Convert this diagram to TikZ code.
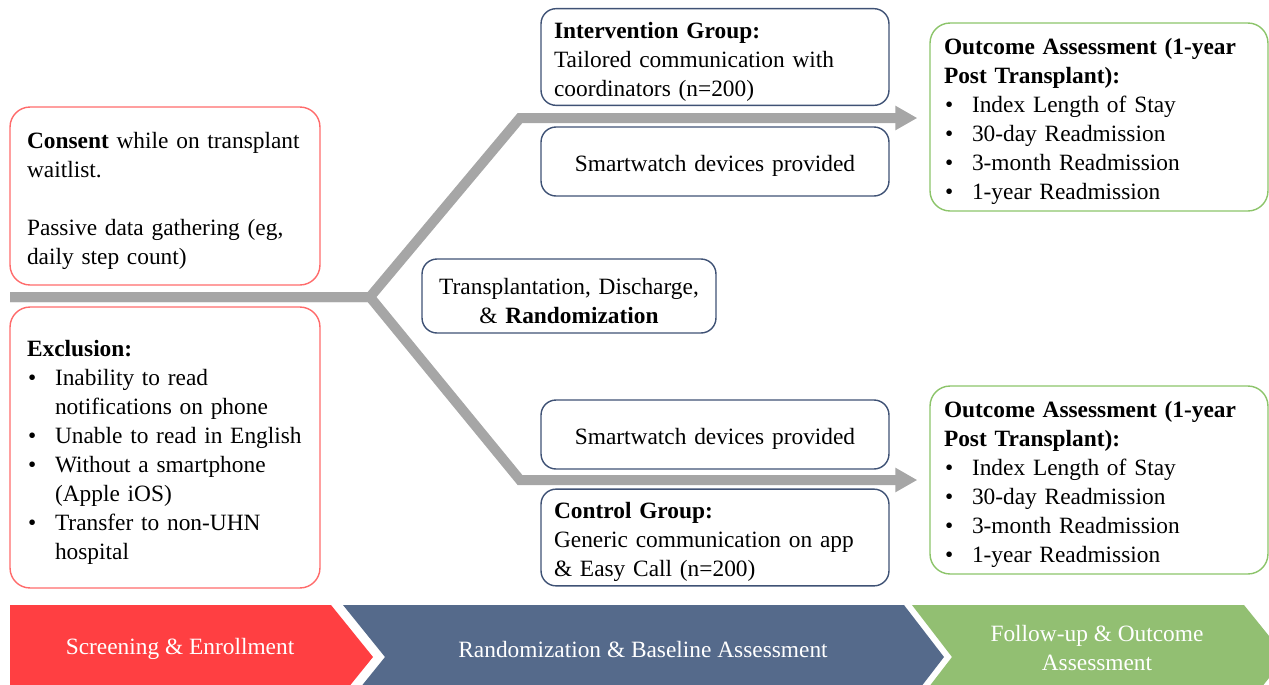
\documentclass[tikz,border=0pt]{standalone}
\usepackage{fontspec}
\setmainfont{Liberation Serif}
\usetikzlibrary{arrows.meta}

\definecolor{consentred}{HTML}{FF6B6B}
\definecolor{groupblue}{HTML}{3F5275}
\definecolor{outcomegreen}{HTML}{8CC46A}
\definecolor{trunkgray}{HTML}{A6A6A6}
\definecolor{phasered}{HTML}{FF3F42}
\definecolor{phaseblue}{HTML}{556A8B}
\definecolor{phasegreen}{HTML}{92BF72}

% bullet with hanging text, and the indent for wrapped lines
\newcommand{\bul}{\makebox[0.56cm][l]{\hspace{0.02cm}\textbullet}}
\newcommand{\ind}{\hspace*{0.56cm}}

\begin{document}
\begin{tikzpicture}[x=0.02cm, y=-0.02cm, font=\fontsize{13.3}{16.5}\selectfont,
  boxtext/.style={execute at begin node={\rule{0pt}{1.1em}}},
  redbox/.style={boxtext, draw=consentred, line width=0.8pt, rounded corners=0.4cm,
    inner xsep=0.34cm, text width=5.52cm, minimum width=6.2cm, align=left},
  bluebox/.style={boxtext, draw=groupblue, line width=0.8pt, rounded corners=0.3cm,
    inner xsep=0.26cm, inner ysep=0.08cm, text width=6.44cm, minimum width=6.96cm, align=left},
  greenbox/.style={boxtext, draw=outcomegreen, line width=0.8pt, rounded corners=0.4cm,
    inner xsep=0.28cm, text width=6.2cm, minimum width=6.76cm,
    minimum height=3.76cm, align=left},
  trunk/.style={draw=trunkgray, line width=0.2cm},
  phase/.style={text=white, align=center}]

\useasboundingbox (0,0) rectangle (1269,684);

% left column: screening
\node[redbox, minimum height=3.56cm] (consent) at (165,196)
  {\textbf{Consent} while on transplant\\ waitlist.\\[16.5pt]
   Passive data gathering (eg,\\ daily step count)};
\node[redbox, minimum height=5.62cm] (exclusion) at (165,447.5)
  {\textbf{Exclusion:}\\
   \bul Inability to read\\ \ind notifications on phone\\
   \bul Unable to read in English\\
   \bul Without a smartphone\\ \ind (Apple iOS)\\
   \bul Transfer to non-UHN\\ \ind hospital};

% middle column: the two arms
\node[bluebox, minimum height=1.88cm] (intervention) at (715,57)
  {\textbf{Intervention Group:}\\ Tailored communication with\\ coordinators (n=200)};
\node[bluebox, minimum height=1.38cm, align=center] (watchA) at (715,161.5)
  {Smartwatch devices provided};
\node[bluebox, inner xsep=0.24cm, text width=5.4cm, minimum width=5.88cm,
  minimum height=1.48cm, align=center] (random) at (569,296)
  {Transplantation, Discharge,\\ \& \textbf{Randomization}};
\node[bluebox, minimum height=1.38cm, align=center] (watchB) at (715,434.5)
  {Smartwatch devices provided};
\node[bluebox, minimum height=1.9cm] (control) at (715,537.5)
  {\textbf{Control Group:}\\ Generic communication on app\\ \& Easy Call (n=200)};

% right column: outcomes
\node[greenbox] (outcomeA) at (1099,117)
  {\textbf{Outcome Assessment (1-year}\\ \textbf{Post Transplant):}\\
   \bul Index Length of Stay\\ \bul 30-day Readmission\\
   \bul 3-month Readmission\\ \bul 1-year Readmission};
\node[greenbox] (outcomeB) at (1099,480)
  {\textbf{Outcome Assessment (1-year}\\ \textbf{Post Transplant):}\\
   \bul Index Length of Stay\\ \bul 30-day Readmission\\
   \bul 3-month Readmission\\ \bul 1-year Readmission};

% grey fork
\coordinate (start) at (10,297);
\coordinate (fork) at (370,297);
\coordinate (bendA) at (520,118);
\coordinate (bendB) at (520,480);
\coordinate (endA) at ([xshift=-0.24cm]outcomeA.west |- bendA);
\coordinate (endB) at ([xshift=-0.24cm]outcomeB.west |- bendB);
\draw[trunk, -{Triangle[length=0.44cm,width=0.46cm]}] (start) -- (fork) -- (bendA) -- (endA);
\draw[trunk, -{Triangle[length=0.44cm,width=0.46cm]}] (start) -- (fork) -- (bendB) -- (endB);

% phase chevrons along the bottom
\fill[phasered] (10,605) -- (331,605) -- (373,657) -- (331,709) -- (10,709) -- cycle;
\fill[phaseblue] (343,605) -- (904,605) -- (944,657) -- (904,709) -- (343,709) -- (385,657) -- cycle;
\fill[phasegreen] (912,605) -- (1244,605) -- (1286,657) -- (1244,709) -- (912,709) -- (952,657) -- cycle;
\node[phase] (screening) at (180,649) {Screening \& Enrollment};
\node[phase] (baseline) at (643,649) {Randomization \& Baseline Assessment};
\node[phase] (followup) at (1097,648) {Follow-up \& Outcome\\ Assessment};
\end{tikzpicture}
\end{document}
